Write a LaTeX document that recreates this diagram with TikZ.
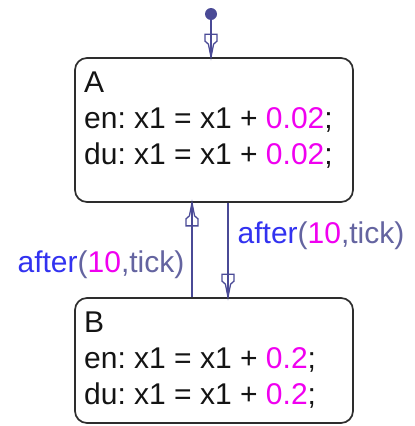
\documentclass[tikz,border=0pt]{standalone}
\usepackage{fontspec}
\setmainfont{Liberation Sans}
\definecolor{trans}{RGB}{74,74,150}
\definecolor{kw}{RGB}{50,50,240}
\definecolor{par}{RGB}{100,100,160}
\definecolor{num}{RGB}{240,0,240}
\definecolor{txt}{RGB}{20,20,20}
\definecolor{frame}{RGB}{45,45,45}
\pgfdeclarearrow{
  name=Stf,
  setup code={
    \pgfarrowssettipend{0pt}
    \pgfarrowssetlineend{0pt}
    \pgfarrowssetbackend{-23pt}
    \pgfarrowsupperhullpoint{0pt}{0pt}
    \pgfarrowsupperhullpoint{-23pt}{6pt}
  },
  drawing code={
    \pgfsetmiterjoin
    \pgfpathmoveto{\pgfpointorigin}
    \pgfpathlineto{\pgfpoint{-13pt}{2.6pt}}
    \pgfpathlineto{\pgfpoint{-16pt}{6pt}}
    \pgfpathlineto{\pgfpoint{-23pt}{6pt}}
    \pgfpathlineto{\pgfpoint{-23pt}{-6pt}}
    \pgfpathlineto{\pgfpoint{-16pt}{-6pt}}
    \pgfpathlineto{\pgfpoint{-13pt}{-2.6pt}}
    \pgfpathclose
    \pgfusepathqstroke
  },
}
\newcommand{\num}[1]{\textcolor{num}{#1}}
\newcommand{\afterlbl}{\textcolor{kw}{after}\textcolor{par}{(}\textcolor{num}{10}\textcolor{par}{,tick)}}
\frenchspacing
\begin{document}
\begin{tikzpicture}[x=1pt,y=-1pt,
  statebox/.style={draw=frame,line width=1.7pt,rounded corners=12pt,inner sep=0pt,
    minimum width=278pt},
  body/.style={anchor=north west,inner sep=0pt,align=left,text=txt,
    font=\fontsize{30}{36}\selectfont},
  tr/.style={draw=trans,line width=1.3pt,-Stf},
  lbl/.style={inner sep=0pt,font=\fontsize{30}{36}\selectfont}]
\useasboundingbox (0,0) rectangle (415,426);
\node[statebox,minimum height=144pt] (A) at (214,130) {};
\node[statebox,minimum height=125pt] (B) at (214,360.5) {};
\node[body] (At) at (84,71.5) {A\\en: x1 = x1 + \num{0.02};\\du: x1 = x1 + \num{0.02};};
\node[body] (Bt) at (84,311.5) {B\\en: x1 = x1 + \num{0.2};\\du: x1 = x1 + \num{0.2};};
\node[circle,fill=trans,inner sep=0pt,minimum size=12pt] (init) at (211,14) {};
\coordinate (lx) at (192,0);
\coordinate (rx) at (228,0);
\draw[tr] (init) -- (A.north -| init);
\draw[tr] (B.north -| lx) -- node[lbl,anchor=base east,xshift=-7pt,yshift=-22pt] (l1) {\afterlbl} (A.south -| lx);
\draw[tr] (A.south -| rx) -- node[lbl,anchor=base west,xshift=9pt,yshift=7pt] (l2) {\afterlbl} (B.north -| rx);
\end{tikzpicture}
\end{document}
